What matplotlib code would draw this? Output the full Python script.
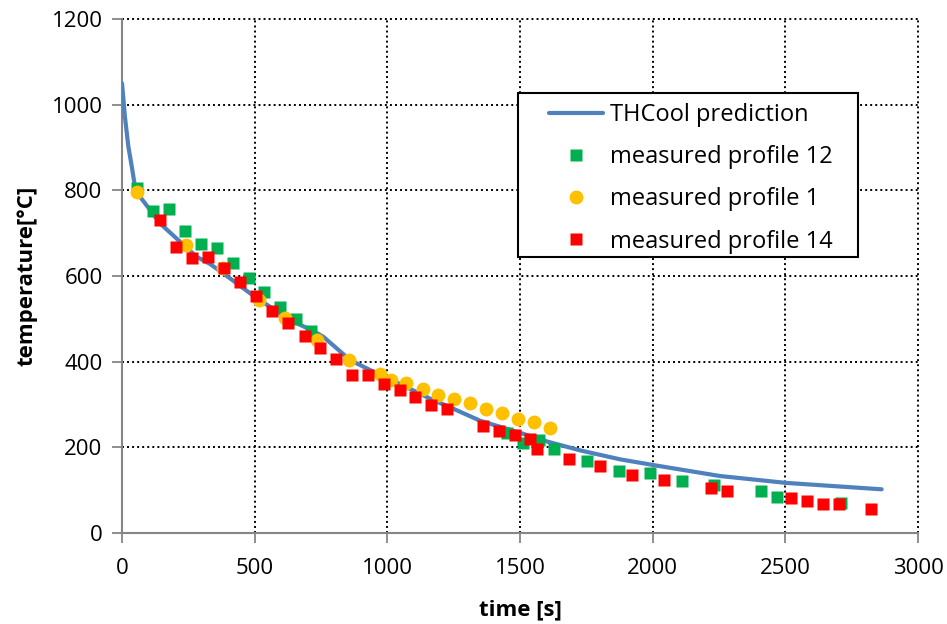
import matplotlib
matplotlib.use("Agg")
import matplotlib.pyplot as plt
from matplotlib.patches import Rectangle

# THCool prediction curve
curve_t = [0, 11, 24, 37, 49, 68, 100, 143, 219, 281, 332, 395, 495, 614, 671, 720, 759, 800, 859,
           998, 1048, 1173, 1224, 1350, 1500, 1600, 1726, 1877, 1999, 2254, 2502, 2863]
curve_T = [1050, 972, 902, 855, 808, 785, 759, 723, 680, 645, 628, 600, 554, 505, 486, 472, 458, 436, 404,
           361, 348, 310, 297, 262, 234, 214, 193, 172, 159, 133, 117, 102]

# measured profile 12 (green squares)
green_t = [55, 116, 177, 236, 297, 357, 417, 477, 537, 597, 657, 712, 1450, 1511, 1573, 1629,
           1751, 1872, 1991, 2112, 2231, 2409, 2469, 2709]
green_T = [806, 751, 756, 706, 675, 665, 630, 596, 563, 528, 500, 471, 234, 211, 216, 195,
           169, 145, 141, 122, 111, 98, 85, 69]

# measured profile 1 (yellow circles)
yellow_t = [55, 241, 382, 515, 614, 734, 857, 972, 1013, 1070, 1133, 1191, 1251, 1312, 1372,
            1432, 1493, 1553, 1613]
yellow_T = [797, 673, 619, 545, 501, 451, 404, 371, 357, 351, 336, 322, 312, 304, 290,
            279, 266, 258, 246]

# measured profile 14 (red squares)
red_t = [144, 205, 265, 325, 386, 446, 506, 567, 627, 688, 747, 807, 868, 928, 989, 1046, 1106,
         1166, 1226, 1362, 1422, 1483, 1539, 1565, 1686, 1803, 1923, 2044, 2221, 2282, 2522,
         2583, 2643, 2704, 2821]
red_T = [730, 667, 642, 644, 618, 585, 553, 518, 490, 460, 431, 406, 368, 368, 347, 334, 317,
         300, 289, 250, 237, 228, 219, 197, 172, 156, 135, 124, 105, 97, 82,
         74, 67, 67, 55]

x_ticks = [0, 500, 1000, 1500, 2000, 2500, 3000]
y_ticks = [0, 200, 400, 600, 800, 1000, 1200]

plt.rcParams['font.family'] = ['Open Sans', 'DejaVu Sans']

W, H = 947, 624
fig = plt.figure(figsize=(W / 100, H / 100), dpi=100)
ax_l, ax_r, ax_t, ax_b = 122, 918, 19, 533
ax = fig.add_axes([ax_l / W, 1 - ax_b / H, (ax_r - ax_l) / W, (ax_b - ax_t) / H])

ax.plot(curve_t, curve_T, color='#4F81BD', lw=3, label='THCool prediction', zorder=3,
        solid_capstyle='round')
ax.plot(green_t, green_T, 's', color='#00B050', ms=9, mec='none', label='measured profile 12', zorder=4)
ax.plot(yellow_t, yellow_T, 'o', color='#FFC000', ms=10, mec='none', label='measured profile 1', zorder=5)
ax.plot(red_t, red_T, 's', color='#FF0000', ms=9, mec='none', label='measured profile 14', zorder=6)

ax.set_xlim(0, 3000)
ax.set_ylim(0, 1200)
ax.set_xticks(x_ticks)
ax.set_yticks(y_ticks)
ax.tick_params(axis='both', labelsize=16, color='#868686', length=7, width=1.3, direction='out')
ax.tick_params(axis='x', pad=11)
ax.tick_params(axis='y', pad=7)

for s in ['top', 'right']:
    ax.spines[s].set_visible(False)
for s in ['left', 'bottom']:
    ax.spines[s].set_color('#868686')
    ax.spines[s].set_linewidth(1.5)
    ax.spines[s].set_zorder(2)

ax.grid(True, color='black', linestyle=(0, (1, 1.6)), linewidth=1.4, zorder=1)
for gl in ax.get_xgridlines() + ax.get_ygridlines():
    gl.set_clip_on(False)

ax.set_xlabel('time [s]', fontsize=16, fontweight='bold', labelpad=15)
ax.set_ylabel('temperature[°C]', fontsize=16, fontweight='bold', labelpad=10)

# legend frame
def to_ax(px, py):
    return ((px - ax_l) / (ax_r - ax_l), (ax_b - py) / (ax_b - ax_t))

x0, y1 = to_ax(518, 93)
x1, y0 = to_ax(858, 257)
ax.add_patch(Rectangle((x0, y0), x1 - x0, y1 - y0, transform=ax.transAxes,
                       facecolor='white', edgecolor='black', lw=1.5, zorder=8, clip_on=False))
lx, ly = to_ax(549, 103)
leg = ax.legend(loc='upper left', bbox_to_anchor=(lx, ly), frameon=False, fontsize=17,
                handlelength=2.3, handletextpad=0.28, labelspacing=0.77, borderpad=0,
                borderaxespad=0)
leg.set_zorder(9)

fig.savefig('out.png', dpi=100)
